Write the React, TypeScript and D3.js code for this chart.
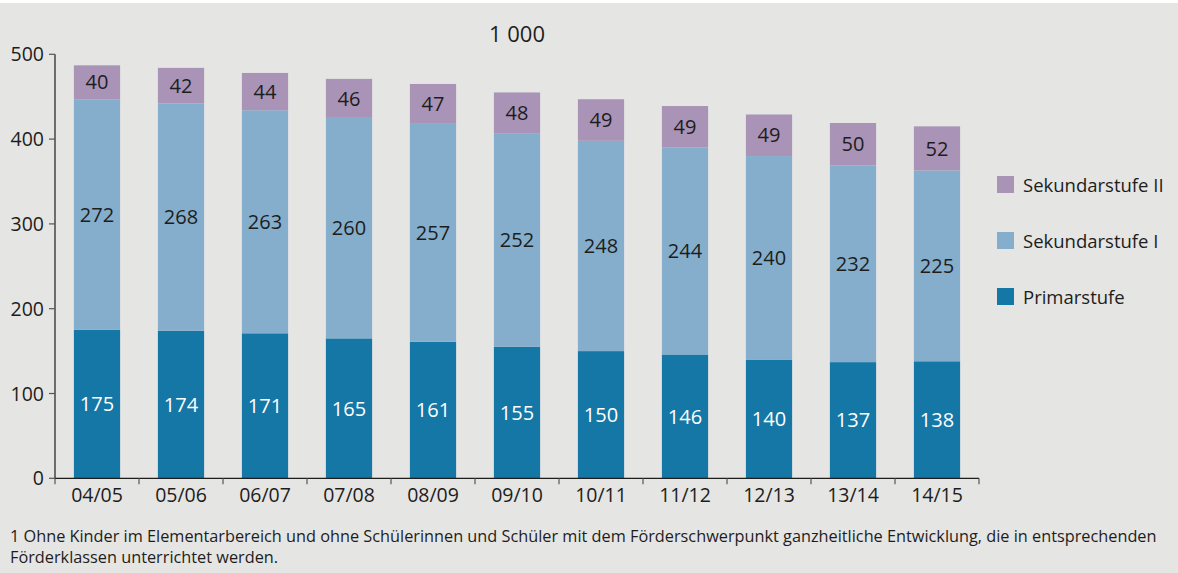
import React from "react";
import * as d3 from "d3";

const categories = ["04/05", "05/06", "06/07", "07/08", "08/09", "09/10", "10/11", "11/12", "12/13", "13/14", "14/15"];
const primarstufe = [175, 174, 171, 165, 161, 155, 150, 146, 140, 137, 138];
const sekundarstufeI = [272, 268, 263, 260, 257, 252, 248, 244, 240, 232, 225];
const sekundarstufeII = [40, 42, 44, 46, 47, 48, 49, 49, 49, 50, 52];
const yTicks = [0, 100, 200, 300, 400, 500];
const seriesNames = ["Primarstufe", "Sekundarstufe I", "Sekundarstufe II"];
const colors = ["#1477a6", "#85aecd", "#a993b7"];
const labelColors = ["#ffffff", "#1d1d1b", "#1d1d1b"];
const unitLabel = "1 000";
const footnote1 = "1 Ohne Kinder im Elementarbereich und ohne Schülerinnen und Schüler mit dem Förderschwerpunkt ganzheitliche Entwicklung, die in entsprechenden";
const footnote2 = "Förderklassen unterrichtet werden.";

const W = 1178;
const H = 573;
const FONT = "'Open Sans', 'Noto Sans', sans-serif";

export default function App() {
  const x = d3.scaleBand<string>().domain(categories).range([55, 979]).paddingInner(0.45).paddingOuter(0.225);
  const y = d3.scaleLinear().domain([0, 500]).range([478.3, 54.3]);

  const rows = categories.map((c, i) => ({
    cat: c,
    p: primarstufe[i],
    s1: sekundarstufeI[i],
    s2: sekundarstufeII[i],
  }));
  const stack = d3.stack<any>().keys(["p", "s1", "s2"])(rows);

  const legendOrder = [2, 1, 0];
  const textColor = "#1d1d1b";

  return (
    <svg width={W} height={H} style={{ position: "absolute", left: 0, top: 0 }} fontFamily={FONT}>
      <rect x={0} y={0} width={W} height={H} fill="#ffffff" />
      <rect x={0} y={3} width={W} height={H - 3} fill="#e5e5e4" />
      <text x={517} y={42} textAnchor="middle" fontSize={22} fill={textColor}>{unitLabel}</text>

      {stack.map((layer, si) => (
        <g key={si}>
          {layer.map((d, i) => (
            <g key={i}>
              <rect
                x={x(categories[i])}
                width={x.bandwidth()}
                y={y(d[1])}
                height={y(d[0]) - y(d[1])}
                fill={colors[si]}
              />
              <text
                x={(x(categories[i]) as number) + x.bandwidth() / 2}
                y={(y(d[0]) + y(d[1])) / 2}
                dy="0.36em"
                textAnchor="middle"
                fontSize={20}
                fill={labelColors[si]}
              >
                {d[1] - d[0]}
              </text>
            </g>
          ))}
        </g>
      ))}

      {/* y axis */}
      <line x1={55} x2={55} y1={y(500)} y2={y(0)} stroke="#1d1d1b" strokeWidth={1.2} />
      {yTicks.map((t) => (
        <g key={t}>
          <line x1={49} x2={55} y1={y(t)} y2={y(t)} stroke="#555" strokeWidth={1.2} />
          <text x={44} y={y(t)} dy="0.36em" textAnchor="end" fontSize={19.5} fill={textColor}>{t}</text>
        </g>
      ))}

      {/* x axis */}
      <line x1={55} x2={979} y1={y(0)} y2={y(0)} stroke="#1d1d1b" strokeWidth={1.2} />
      {categories.map((c, i) => (
        <g key={c}>
          <line x1={55 + i * 84} x2={55 + i * 84} y1={y(0)} y2={y(0) + 6} stroke="#555" strokeWidth={1.2} />
          <text x={(x(c) as number) + x.bandwidth() / 2} y={502} textAnchor="middle" fontSize={19.5} fill={textColor}>{c}</text>
        </g>
      ))}
      <line x1={979} x2={979} y1={y(0)} y2={y(0) + 6} stroke="#555" strokeWidth={1.2} />

      {/* legend */}
      {legendOrder.map((si, k) => (
        <g key={si}>
          <rect x={997} y={176 + k * 56} width={17} height={17} fill={colors[si]} />
          <text x={1023} y={185 + k * 56} dy="0.36em" fontSize={18.5} fill={textColor}>{seriesNames[si]}</text>
        </g>
      ))}

      <text x={10} y={542} fontSize={16.3} fill={textColor}>{footnote1}</text>
      <text x={10} y={563} fontSize={16.3} fill={textColor}>{footnote2}</text>
    </svg>
  );
}
